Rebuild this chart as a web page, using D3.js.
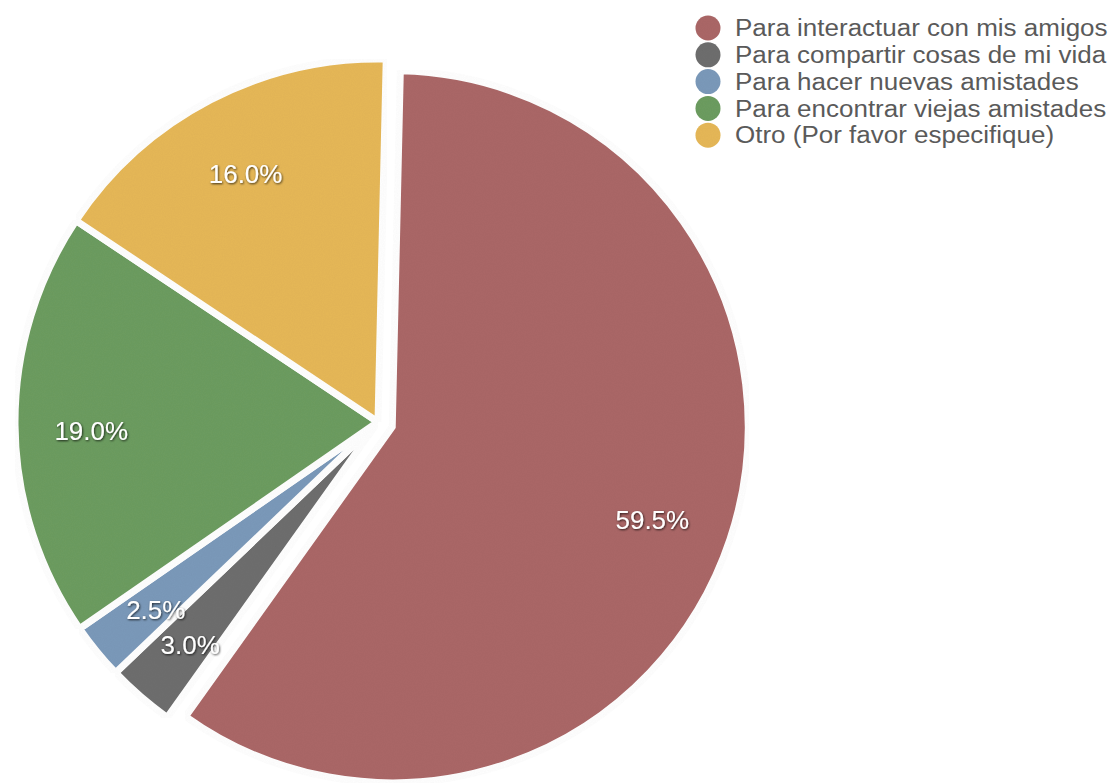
<!DOCTYPE html>
<html>
<head>
<meta charset="utf-8">
<script src="https://cdn.jsdelivr.net/npm/d3@7"></script>
<style>
  body { margin: 0; background: #fff; }
  svg { display: block; }
</style>
</head>
<body>
<div class="pie-container"></div>
<script>
// Data
const categories = [
    'Para interactuar con mis amigos',
    'Para compartir cosas de mi vida',
    'Para hacer nuevas amistades',
    'Para encontrar viejas amistades',
    'Otro (Por favor especifique)'
];
const values = [59.5, 3.0, 2.5, 19.0, 16.0];
const colors = ['#ab6767', '#6e6e6e', '#7c9aba', '#6d9c60', '#e6b858'];

const width = 1112, height = 784;
const cx = 378, cy = 422;
const radius = 363;
const redRadius = 356;
const explode = 15;
const tilt = 1.3 * Math.PI / 180;   // picture is a little rotated

const svg = d3.select('.pie-container').append('svg')
    .attr('width', width).attr('height', height);

// paper-like grain
const defs = svg.append('defs');
const grain = defs.append('filter').attr('id', 'grain')
    .attr('x', 0).attr('y', 0).attr('width', 1).attr('height', 1);
grain.append('feTurbulence').attr('type', 'fractalNoise')
    .attr('baseFrequency', 0.9).attr('numOctaves', 2).attr('result', 'noise');
grain.append('feColorMatrix').attr('in', 'noise').attr('type', 'matrix')
    .attr('values', '0 0 0 0 0  0 0 0 0 0  0 0 0 0 0  0 0 0 0.06 0').attr('result', 'dots');
grain.append('feComposite').attr('in', 'dots').attr('in2', 'SourceGraphic').attr('operator', 'in').attr('result', 'dots2');
const merge = grain.append('feMerge');
merge.append('feMergeNode').attr('in', 'SourceGraphic');
merge.append('feMergeNode').attr('in', 'dots2');

const shadow = defs.append('filter').attr('id', 'shadow');
shadow.append('feDropShadow').attr('dx', 0.8).attr('dy', 1).attr('stdDeviation', 0.8)
    .attr('flood-color', '#000').attr('flood-opacity', 0.75);

const pie = d3.pie().sort(null).value(d => d.value)
    .startAngle(tilt).endAngle(2 * Math.PI + tilt);
const data = categories.map((c, i) => ({ name: c, value: values[i], color: colors[i] }));
const arcs = pie(data);

const arcGen = d3.arc().innerRadius(0).outerRadius(d => d.index === 0 ? redRadius : radius);
const labelR = d => d.index === 0 ? redRadius * 0.77 : radius * 0.79;
const labelArc = d3.arc().innerRadius(labelR).outerRadius(labelR);

const offset = d => {
    if (d.index !== 0) return [0, 0];
    const mid = (d.startAngle + d.endAngle) / 2;
    return [Math.sin(mid) * explode, -Math.cos(mid) * explode];
};

const g = svg.append('g').attr('transform', `translate(${cx},${cy})`);

const slices = g.selectAll('.slice').data(arcs).enter()
    .append('g').attr('class', 'slice')
    .attr('transform', d => `translate(${offset(d)})`);

slices.append('path')
    .attr('d', arcGen)
    .style('fill', d => d.data.color)
    .style('stroke', '#fff').style('stroke-width', 7).style('stroke-linejoin', 'miter')
    .attr('filter', 'url(#grain)');

slices.append('text')
    .attr('transform', d => `translate(${labelArc.centroid(d)})`)
    .attr('text-anchor', 'middle').attr('dy', '0.6em')
    .style('font-family', '"Liberation Sans", Arial, sans-serif')
    .style('font-size', '26px')
    .style('fill', '#fff')
    .attr('filter', 'url(#shadow)')
    .text(d => d.data.value.toFixed(1) + '%');

// Legend
const legend = svg.append('g').attr('class', 'legend')
    .attr('transform', 'translate(708,28)');
const items = legend.selectAll('.item').data(data).enter()
    .append('g').attr('class', 'item')
    .attr('transform', (d, i) => `translate(0,${i * 26.8})`);
items.append('circle').attr('r', 12.5)
    .style('fill', d => d.color).attr('filter', 'url(#grain)');
items.append('text')
    .attr('transform', 'translate(27,0) scale(1.13,1)')
    .attr('dy', '0.36em')
    .style('font-family', '"Liberation Sans", Arial, sans-serif')
    .style('font-size', '23px')
    .style('fill', '#5a5a5a')
    .text(d => d.name);
</script>
</body>
</html>
